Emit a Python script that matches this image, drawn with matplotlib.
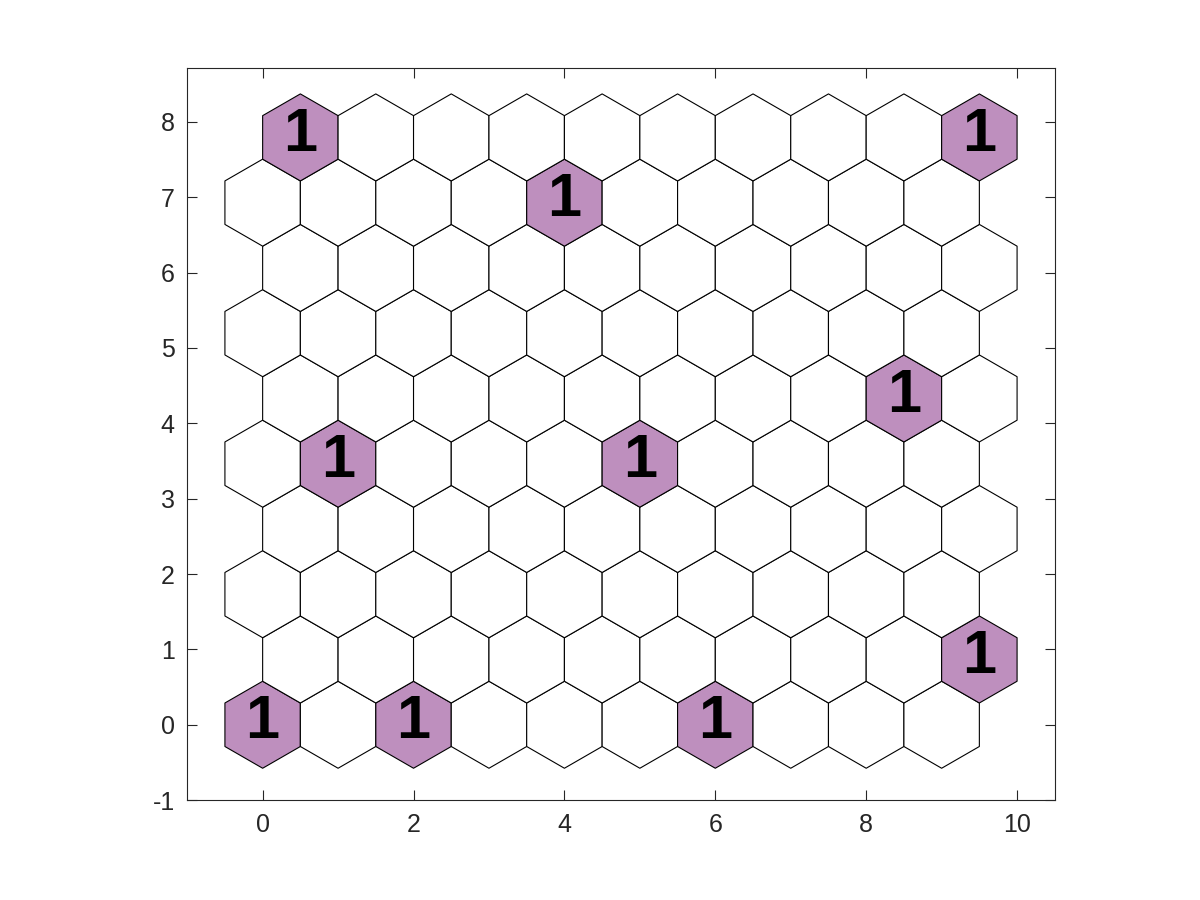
import numpy as np
import matplotlib.pyplot as plt
from matplotlib.patches import RegularPolygon

plt.rcParams['axes.unicode_minus'] = False

# grid size (columns x rows) of the hexagonal SOM layout
n_cols = 10
n_rows = 10

# cells with hits: (column, row) and their hit counts
hit_cols = [0, 2, 6, 9, 1, 5, 8, 4, 0, 9]
hit_rows = [0, 0, 0, 1, 4, 4, 5, 8, 9, 9]
hit_counts = [1, 1, 1, 1, 1, 1, 1, 1, 1, 1]

x_ticks = [0, 2, 4, 6, 8, 10]
y_ticks = [-1, 0, 1, 2, 3, 4, 5, 6, 7, 8]

fill_col = '#BE8FBE'
row_step = np.sqrt(3) / 2
radius = 1 / np.sqrt(3)

fig = plt.figure(figsize=(12, 9), dpi=100)
ax = fig.add_axes([0.156, 0.111, 0.723, 0.813])

hits = {(c, r): n for c, r, n in zip(hit_cols, hit_rows, hit_counts)}

for r in range(n_rows):
    for c in range(n_cols):
        x = c + 0.5 * (r % 2)
        y = r * row_step
        face = fill_col if (c, r) in hits else 'white'
        hexagon = RegularPolygon((x, y), numVertices=6, radius=radius,
                                 orientation=0, facecolor=face,
                                 edgecolor='black', linewidth=0.8)
        ax.add_patch(hexagon)
        if (c, r) in hits:
            ax.text(x, y + 0.03, str(hits[(c, r)]), ha='center', va='center',
                    fontsize=44, fontweight='bold', family='Liberation Sans',
                    color='black')

ax.set_xlim(-1, 10.5)
ax.set_ylim(-1, 8.71)
ax.set_xticks(x_ticks)
ax.set_yticks(y_ticks)
ax.tick_params(direction='in', length=7, width=0.8, top=True, right=True,
               labelsize=18, colors='#262626', pad=9)
for lab in ax.get_xticklabels() + ax.get_yticklabels():
    lab.set_family('Liberation Sans')
for sp in ax.spines.values():
    sp.set_color('#262626')
    sp.set_linewidth(0.8)

fig.savefig('out.png', dpi=100)
